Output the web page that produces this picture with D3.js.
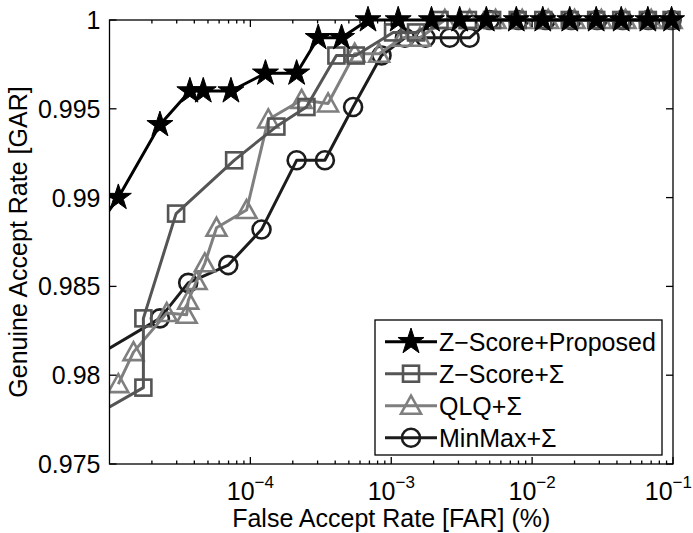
<!DOCTYPE html>
<html>
<head>
<meta charset="utf-8">
<script src="https://cdn.jsdelivr.net/npm/d3@7"></script>
<style>
  body { margin: 0; background: #fff; }
  text { font-family: "Liberation Sans", Arial, Helvetica, sans-serif; fill: #000; }
</style>
</head>
<body>
<svg id="chart" width="693" height="533"></svg>
<script>
// series data (FAR is log scale)
const starFar = [9e-6, 1.155e-5, 2.28e-5, 3.72e-5, 4.63e-5, 7.28e-5, 1.28e-4, 2.13e-4, 3.03e-4, 4.44e-4,
  6.84e-4, 1.12e-3, 1.93e-3, 3.06e-3, 4.73e-3, 7.72e-3, 1.19e-2, 1.85e-2, 2.85e-2, 4.29e-2, 6.63e-2, 9.77e-2];
const starGar = [0.9888, 0.9900, 0.9941, 0.9960, 0.9960, 0.9960, 0.9970, 0.9970, 0.9990, 0.9990,
  1, 1, 1, 1, 1, 1, 1, 1, 1, 1, 1, 1];

const squareFar = [9e-6, 1.74e-5, 1.74e-5, 2.97e-5, 7.67e-5, 1.53e-4, 2.5e-4, 4.08e-4, 5.6e-4, 1.03e-3,
  1.5e-3, 2.2e-3, 3.5e-3, 5.2e-3, 7.9e-3, 1.2e-2, 1.85e-2, 2.85e-2, 4.29e-2, 6.63e-2, 9.77e-2];
const squareGar = [0.9780, 0.9793, 0.9832, 0.9891, 0.9921, 0.9940, 0.9951, 0.9980, 0.9980, 0.9993,
  0.9993, 1, 1, 1, 1, 1, 1, 1, 1, 1, 1];

const triangleFar = [1.155e-5, 1.48e-5, 2.55e-5, 3.53e-5, 3.62e-5, 4.15e-5, 4.75e-5, 5.75e-5, 9.4e-5,
  1.34e-4, 2.31e-4, 3.56e-4, 5.5e-4, 8.2e-4, 1.2e-3, 1.6e-3, 2.4e-3, 3.6e-3, 5.5e-3, 8.5e-3, 1.3e-2,
  2.0e-2, 3.1e-2, 4.6e-2, 7.0e-2, 9.77e-2];
const triangleGar = [0.9795, 0.9813, 0.9835, 0.9834, 0.9842, 0.9853, 0.9863, 0.9883, 0.9893,
  0.9944, 0.9955, 0.9953, 0.9981, 0.9981, 0.9990, 0.9990, 1, 1, 1, 1, 1, 1, 1, 1, 1, 1];

const circleFar = [9e-6, 2.28e-5, 3.62e-5, 6.97e-5, 1.2e-4, 2.13e-4, 3.38e-4, 5.36e-4, 8.53e-4, 1.25e-3,
  1.75e-3, 2.6e-3, 3.6e-3, 5.0e-3, 8.0e-3, 1.25e-2, 1.9e-2, 2.9e-2, 4.4e-2, 6.7e-2, 9.77e-2];
const circleGar = [0.9813, 0.9832, 0.9852, 0.9862, 0.9882, 0.9921, 0.9921, 0.9951, 0.9980, 0.9990,
  0.9990, 0.9990, 0.9990, 1, 1, 1, 1, 1, 1, 1, 1];

const seriesNames = ['Z\u2212Score+Proposed', 'Z\u2212Score+\u03a3', 'QLQ+\u03a3', 'MinMax+\u03a3'];
const yTicks = [0.975, 0.98, 0.985, 0.99, 0.995, 1];
const yTickLabels = ['0.975', '0.98', '0.985', '0.99', '0.995', '1'];
const xTicks = [1e-4, 1e-3, 1e-2, 1e-1];
const xTickExps = ['\u22124', '\u22123', '\u22122', '\u22121'];

const margin = { top: 20, right: 20, bottom: 69, left: 109.5 };
const width = 693;
const height = 533;
const fontSize = 25;

const x = d3.scaleLog().domain([1e-5, 1e-1]).range([margin.left, width - margin.right]);
const y = d3.scaleLinear().domain([0.975, 1]).range([height - margin.bottom, margin.top]);

const svg = d3.select('#chart');

svg.append('defs').append('clipPath').attr('id', 'clip')
  .append('rect')
  .attr('x', margin.left)
  .attr('y', 0)
  .attr('width', width - margin.left)
  .attr('height', height);

const series = [
  { name: seriesNames[0], far: starFar, gar: starGar, color: '#000', marker: 'star' },
  { name: seriesNames[1], far: squareFar, gar: squareGar, color: '#555', marker: 'square' },
  { name: seriesNames[2], far: triangleFar, gar: triangleGar, color: '#7f7f7f', marker: 'triangle' },
  { name: seriesNames[3], far: circleFar, gar: circleGar, color: '#1c1c1c', marker: 'circle' },
];

const starPath = d3.symbol().type(d3.symbolStar).size(210)();

const drawMarker = (g, kind, color) => {
  if (kind === 'star') {
    g.append('path').attr('d', starPath).attr('fill', color).attr('stroke', color).attr('stroke-width', 1);
  } else if (kind === 'square') {
    g.append('rect').attr('x', -8).attr('y', -8).attr('width', 16).attr('height', 16)
      .attr('fill', 'none').attr('stroke', color).attr('stroke-width', 2.6);
  } else if (kind === 'triangle') {
    g.append('path').attr('d', 'M0,-10L10,8L-10,8Z')
      .attr('fill', 'none').attr('stroke', color).attr('stroke-width', 2.6).attr('stroke-linejoin', 'miter');
  } else {
    g.append('circle').attr('r', 9)
      .attr('fill', 'none').attr('stroke', color).attr('stroke-width', 2.6);
  }
};

const line = d3.line().x((d) => x(d[0])).y((d) => y(d[1]));

// draw last series first so the proposed one sits on top
const plot = svg.append('g').attr('clip-path', 'url(#clip)');
series.slice().reverse().forEach((s) => {
  const pts = s.far.map((f, i) => [f, s.gar[i]]);
  plot.append('path')
    .datum(pts)
    .attr('d', line)
    .attr('fill', 'none')
    .attr('stroke', s.color)
    .attr('stroke-width', 3)
    .attr('stroke-linejoin', 'round');
  // points left of the axis only carry the line in from outside
  pts.filter((p) => p[0] >= x.domain()[0]).forEach((p) => {
    const g = plot.append('g').attr('transform', `translate(${x(p[0])},${y(p[1])})`);
    drawMarker(g, s.marker, s.color);
  });
});

// axes box and ticks (inside, matlab style)
const x0 = margin.left;
const x1 = width - margin.right;
const y0 = height - margin.bottom;
const y1 = margin.top;

const axes = svg.append('g').attr('stroke', '#000').attr('stroke-width', 1.3);
axes.append('rect').attr('x', x0).attr('y', y1).attr('width', x1 - x0).attr('height', y0 - y1)
  .attr('fill', 'none');

const minor = [];
[1e-5, 1e-4, 1e-3, 1e-2].forEach((dec) => {
  for (let k = 2; k <= 9; k++) minor.push(dec * k);
});
minor.forEach((v) => {
  axes.append('line').attr('x1', x(v)).attr('x2', x(v)).attr('y1', y0).attr('y2', y0 - 3.5);
  axes.append('line').attr('x1', x(v)).attr('x2', x(v)).attr('y1', y1).attr('y2', y1 + 3.5);
});
xTicks.forEach((v) => {
  axes.append('line').attr('x1', x(v)).attr('x2', x(v)).attr('y1', y0).attr('y2', y0 - 7);
  axes.append('line').attr('x1', x(v)).attr('x2', x(v)).attr('y1', y1).attr('y2', y1 + 7);
});
yTicks.forEach((v) => {
  axes.append('line').attr('x1', x0).attr('x2', x0 + 7).attr('y1', y(v)).attr('y2', y(v));
  axes.append('line').attr('x1', x1).attr('x2', x1 - 7).attr('y1', y(v)).attr('y2', y(v));
});

// tick labels
yTicks.forEach((v, i) => {
  svg.append('text')
    .attr('x', x0 - 9)
    .attr('y', y(v))
    .attr('dy', '0.36em')
    .attr('text-anchor', 'end')
    .attr('font-size', fontSize)
    .text(yTickLabels[i]);
});
xTicks.forEach((v, i) => {
  const last = i === xTicks.length - 1;
  // the last label would run off the page edge, so it is pinned to it
  const t = svg.append('text')
    .attr('x', last ? width - 1 : x(v))
    .attr('y', y0 + 36)
    .attr('text-anchor', last ? 'end' : 'middle')
    .attr('font-size', fontSize);
  t.append('tspan').text('10');
  t.append('tspan').attr('dy', -12).attr('font-size', 17).text(xTickExps[i]);
});

// axis titles
svg.append('text')
  .attr('x', (x0 + x1) / 2)
  .attr('y', 527)
  .attr('text-anchor', 'middle')
  .attr('font-size', fontSize)
  .text('False Accept Rate [FAR] (%)');
svg.append('text')
  .attr('transform', `translate(27,${(y0 + y1) / 2}) rotate(-90)`)
  .attr('text-anchor', 'middle')
  .attr('font-size', fontSize)
  .text('Genuine Accept Rate [GAR]');

// legend
const legend = svg.append('g');
legend.append('rect')
  .attr('x', 375).attr('y', 320).attr('width', 287).attr('height', 135)
  .attr('fill', '#fff').attr('stroke', '#000').attr('stroke-width', 1.3);
series.forEach((s, i) => {
  const ly = 341.7 + i * 32;
  legend.append('line').attr('x1', 385).attr('x2', 437).attr('y1', ly).attr('y2', ly)
    .attr('stroke', s.color).attr('stroke-width', 3);
  drawMarker(legend.append('g').attr('transform', `translate(411,${ly})`), s.marker, s.color);
  legend.append('text')
    .attr('x', 439).attr('y', ly).attr('dy', '0.36em')
    .attr('font-size', fontSize)
    .text(s.name);
});
</script>
</body>
</html>
